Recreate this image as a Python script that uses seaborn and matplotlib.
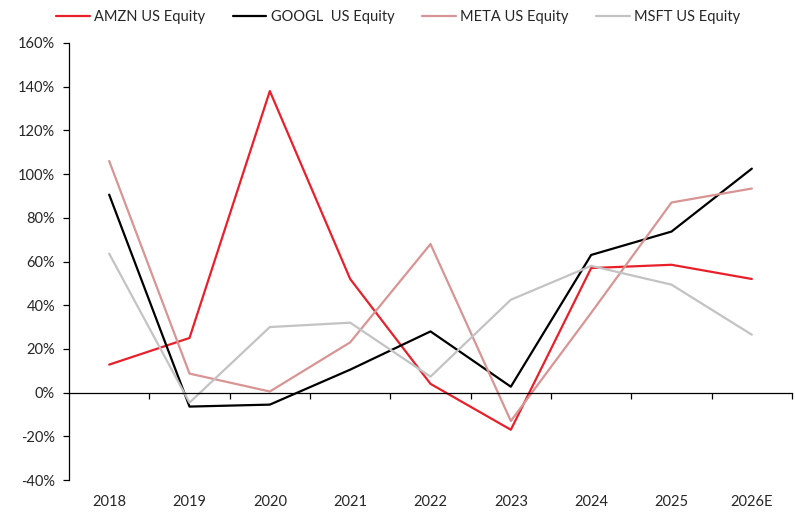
import matplotlib
matplotlib.use("Agg")
import matplotlib.pyplot as plt
import seaborn as sns
import pandas as pd
from matplotlib.ticker import FuncFormatter, FixedLocator

years = ["2018", "2019", "2020", "2021", "2022", "2023", "2024", "2025", "2026E"]
amzn = [12.8, 25.0, 138.0, 52.0, 4.0, -17.0, 57.0, 58.5, 52.0]
googl = [90.6, -6.4, -5.5, 10.5, 28.0, 2.7, 63.0, 73.7, 102.5]
meta = [106.0, 8.7, 0.5, 23.0, 68.0, -13.0, 36.5, 87.0, 93.4]
msft = [63.6, -4.6, 30.0, 32.0, 7.3, 42.5, 58.0, 49.4, 26.5]
series_names = ["AMZN US Equity", "GOOGL  US Equity", "META US Equity", "MSFT US Equity"]
colors = ["#E8202A", "#000000", "#D99494", "#C3C3C3"]

rows = []
for name, vals in zip(series_names, [amzn, googl, meta, msft]):
    for i, (y, v) in enumerate(zip(years, vals)):
        rows.append({"idx": i, "year": y, "value": v, "series": name})
df = pd.DataFrame(rows)

sns.set_theme(style="white")
plt.rcParams["font.family"] = ["Lato", "DejaVu Sans"]

fig = plt.figure(figsize=(7.95, 5.15), dpi=100)
ax = fig.add_axes([69/795, 35/515, (792-69)/795, (480-43)/515])

sns.lineplot(data=df, x="idx", y="value", hue="series", hue_order=series_names,
             palette=colors, linewidth=1.6, ax=ax, sort=False)

ax.set_xlim(-0.5, 8.5)
ax.set_ylim(-40, 160)
ax.set_yticks(range(-40, 161, 20))
ax.yaxis.set_major_formatter(FuncFormatter(lambda v, p: f"{int(v)}%"))
ax.tick_params(axis="y", which="major", direction="out", length=4, width=0.9,
               color="black", labelsize=10.5, pad=6, left=True)

for s in ["top", "right"]:
    ax.spines[s].set_visible(False)
ax.spines["left"].set_color("black")
ax.spines["left"].set_linewidth(0.9)
ax.spines["bottom"].set_position(("data", 0))
ax.spines["bottom"].set_color("black")
ax.spines["bottom"].set_linewidth(0.9)

ax.set_xticks(range(len(years)))
ax.set_xticklabels(years)
ax.xaxis.set_minor_locator(FixedLocator([i + 0.5 for i in range(len(years))]))
ax.tick_params(axis="x", which="major", length=0, labelsize=10.5, pad=74)
ax.tick_params(axis="x", which="minor", direction="out", length=4, width=0.9,
               color="black", bottom=True)
ax.set_xlabel("")
ax.set_ylabel("")
ax.grid(False)

handles, labels = ax.get_legend_handles_labels()
ax.legend(handles, labels, loc="center", bbox_to_anchor=(398/795, 1 - 17/515),
          bbox_transform=fig.transFigure, ncol=4, frameon=False, fontsize=10.5,
          handlelength=2.3, handletextpad=0.3, columnspacing=1.9)

fig.savefig("out.png", dpi=100)
